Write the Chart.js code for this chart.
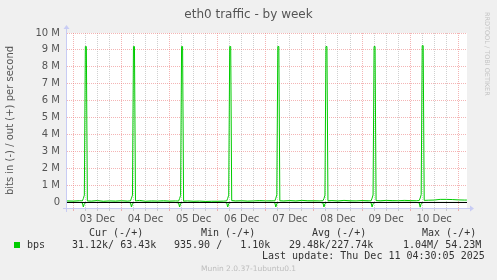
<!DOCTYPE html>
<html>
<head>
<meta charset="utf-8">
<script src="https://cdn.jsdelivr.net/npm/chart.js@4/dist/chart.umd.min.js"></script>
<style>
  html, body { margin: 0; padding: 0; background: #f0f0f0; }
  #wrap { position: relative; width: 497px; height: 280px; overflow: hidden; }
  canvas { position: absolute; left: 0; top: 0; }
  .t { position: absolute; white-space: pre; font-family: 'DejaVu Sans', sans-serif; }
  .mono { font-family: 'DejaVu Sans Mono', monospace; font-size: 10px; line-height: 12px; color: #333; }
</style>
</head>
<body>
<div id="wrap">
  <canvas id="graph" width="497" height="280"></canvas>
  <div class="t" style="left:0;width:497px;top:6px;text-align:center;font-size:12px;line-height:16px;color:#555;">eth0 traffic - by week</div>
  <div class="t" style="left:482px;top:12px;writing-mode:vertical-rl;font-size:6.5px;line-height:10px;color:#c4c4c4;">RRDTOOL / TOBI OETIKER</div>

  <div class="t mono" style="left:89px;top:227px;">Cur (-/+)</div>
  <div class="t mono" style="left:201px;top:227px;">Min (-/+)</div>
  <div class="t mono" style="left:312px;top:227px;">Avg (-/+)</div>
  <div class="t mono" style="left:422px;top:227px;">Max (-/+)</div>

  <div style="position:absolute;left:14px;top:242px;width:6px;height:6px;background:#00cc00;"></div>
  <div class="t mono" style="left:27px;top:239px;">bps</div>
  <div class="t mono" style="left:72px;top:239px;">31.12k/ 63.43k</div>
  <div class="t mono" style="left:174px;top:239px;">935.90 /   1.10k</div>
  <div class="t mono" style="left:289px;top:239px;">29.48k/227.74k</div>
  <div class="t mono" style="left:403px;top:239px;">1.04M/ 54.23M</div>

  <div class="t mono" style="left:262px;top:250px;">Last update: Thu Dec 11 04:30:05 2025</div>
  <div class="t" style="left:0;width:497px;top:264px;text-align:center;font-size:7.5px;line-height:10px;color:#bdbdbd;">Munin 2.0.37-1ubuntu0.1</div>
</div>

<script>
// hours counted from 03 Dec 00:00, one row every few hours (denser around the daily spike)
const timeHours = [
  -3.1,
  0, 3, 4.5, 5, 5.5, 6, 6.5, 7, 9, 12, 15, 18, 21,
  24, 27, 28.5, 29, 29.5, 30, 30.5, 31, 33, 36, 39, 42, 45,
  48, 51, 52.5, 53, 53.5, 54, 54.5, 55, 57, 60, 63, 66, 69,
  72, 75, 76.5, 77, 77.5, 78, 78.5, 79, 81, 84, 87, 90, 93,
  96, 99, 100.5, 101, 101.5, 102, 102.5, 103, 105, 108, 111, 114, 117,
  120, 123, 124.5, 125, 125.5, 126, 126.5, 127, 129, 132, 135, 138, 141,
  144, 147, 148.5, 149, 149.5, 150, 150.5, 151, 153, 156, 159, 162, 165,
  168, 171, 172.5, 173, 173.5, 174, 174.5, 175, 177, 180, 183, 186, 189,
  192, 195, 196.3
];

// bits out per second (+)
const outBps = [
  60000,
  50000, 70000, 60000, 200000, 400000, 9200000, 9200000, 60000, 50000, 80000, 40000, 60000, 50000,
  70000, 50000, 60000, 220000, 400000, 9200000, 9200000, 60000, 90000, 40000, 60000, 50000, 70000,
  50000, 60000, 50000, 200000, 380000, 9200000, 9200000, 50000, 60000, 40000, 50000, 30000, 40000,
  40000, 50000, 60000, 210000, 400000, 9200000, 9200000, 80000, 60000, 70000, 50000, 60000, 80000,
  60000, 70000, 60000, 220000, 420000, 9200000, 9200000, 70000, 60000, 80000, 60000, 90000, 70000,
  70000, 60000, 70000, 200000, 400000, 9200000, 9200000, 70000, 80000, 60000, 90000, 70000, 60000,
  80000, 70000, 60000, 220000, 410000, 9200000, 9200000, 80000, 70000, 90000, 80000, 70000, 90000,
  80000, 70000, 80000, 230000, 430000, 9250000, 9250000, 90000, 100000, 110000, 150000, 150000, 140000,
  120000, 110000, 110000
];

// bits in per second (-), drawn below zero
const inBps = [
  -20000,
  -20000, -30000, -50000, -300000, -100000, -50000, -40000, -30000, -20000, -30000, -20000, -30000, -20000,
  -30000, -20000, -50000, -300000, -110000, -50000, -40000, -30000, -20000, -30000, -20000, -30000, -20000,
  -20000, -30000, -60000, -300000, -100000, -50000, -40000, -20000, -30000, -20000, -30000, -20000, -30000,
  -20000, -30000, -50000, -300000, -100000, -50000, -40000, -30000, -20000, -30000, -20000, -30000, -20000,
  -30000, -20000, -50000, -300000, -110000, -50000, -40000, -30000, -20000, -30000, -20000, -30000, -20000,
  -20000, -30000, -60000, -300000, -100000, -50000, -40000, -20000, -30000, -20000, -30000, -20000, -30000,
  -30000, -20000, -50000, -300000, -110000, -50000, -40000, -30000, -20000, -30000, -20000, -30000, -20000,
  -20000, -30000, -50000, -310000, -100000, -50000, -40000, -30000, -30000, -30000, -30000, -30000, -30000,
  -30000, -30000, -30000
];

const dayLabels = ['03 Dec', '04 Dec', '05 Dec', '06 Dec', '07 Dec', '08 Dec', '09 Dec', '10 Dec'];
const yTickLabels = ['0', '1 M', '2 M', '3 M', '4 M', '5 M', '6 M', '7 M', '8 M', '9 M', '10 M'];

const redGrid = 'rgba(235,120,120,0.55)';
const grayGrid = 'rgba(170,170,170,0.55)';
const axisBlue = '#c8ccf4';

const toPts = (vals) => vals.map((v, i) => ({ x: timeHours[i], y: v }));

// white plot area, zero line and the rrdtool style arrows
const rrdFrame = {
    id: 'rrdFrame',
    beforeDraw(chart) {
        const { ctx, chartArea: a } = chart;
        ctx.save();
        ctx.fillStyle = '#ffffff';
        ctx.fillRect(a.left, a.top, a.right - a.left, a.bottom - a.top);
        ctx.restore();
    },
    afterDatasetsDraw(chart) {
        const { ctx, chartArea: a } = chart;
        const y0 = Math.round(chart.scales.y.getPixelForValue(0)) + 0.5;
        ctx.save();
        ctx.strokeStyle = '#000000';
        ctx.lineWidth = 1;
        ctx.beginPath();
        ctx.moveTo(a.left, y0);
        ctx.lineTo(a.right, y0);
        ctx.stroke();

        // axes
        ctx.strokeStyle = axisBlue;
        ctx.fillStyle = axisBlue;
        const xl = a.left - 0.5, yb = a.bottom + 0.5;
        ctx.beginPath();
        ctx.moveTo(xl, a.bottom + 4);
        ctx.lineTo(xl, a.top - 5);
        ctx.moveTo(a.left - 4, yb);
        ctx.lineTo(a.right + 4, yb);
        ctx.stroke();
        ctx.beginPath();
        ctx.moveTo(xl, a.top - 8);
        ctx.lineTo(xl - 3, a.top - 4);
        ctx.lineTo(xl + 3, a.top - 4);
        ctx.closePath();
        ctx.fill();
        ctx.beginPath();
        ctx.moveTo(a.right + 7, yb);
        ctx.lineTo(a.right + 3, yb - 3);
        ctx.lineTo(a.right + 3, yb + 3);
        ctx.closePath();
        ctx.fill();
        ctx.restore();
    }
};

new Chart(document.getElementById('graph'), {
    type: 'line',
    data: {
        datasets: [{
            label: 'out',
            data: toPts(outBps),
            borderColor: '#00cc00',
            borderWidth: 1,
            pointRadius: 0,
            tension: 0
        }, {
            label: 'in',
            data: toPts(inBps),
            borderColor: '#00cc00',
            borderWidth: 1,
            pointRadius: 0,
            tension: 0
        }]
    },
    options: {
        responsive: false,
        devicePixelRatio: 1,
        animation: false,
        layout: { padding: { left: 0, right: 30, top: 33, bottom: 0 } },
        plugins: {
            legend: { display: false },
            tooltip: { enabled: false }
        },
        scales: {
            x: {
                type: 'linear',
                min: -3.15,
                max: 196.35,
                afterFit: (s) => { s.height = 72; },
                afterBuildTicks: (s) => {
                    const t = [];
                    for (let h = 0; h <= 192; h += 6) t.push({ value: h });
                    s.ticks = t;
                },
                grid: {
                    color: (c) => (c.tick && c.tick.value % 24 === 0) ? redGrid : grayGrid,
                    lineWidth: 1,
                    drawTicks: true,
                    tickLength: 3
                },
                border: { display: false, dash: [1, 1] },
                ticks: {
                    autoSkip: false,
                    maxRotation: 0,
                    padding: 2,
                    color: '#555',
                    font: { family: 'DejaVu Sans', size: 10 },
                    callback: (v) => ((v - 12) % 24 === 0 ? dayLabels[(v - 12) / 24] : '')
                }
            },
            y: {
                min: -360000,
                max: 10000000,
                afterFit: (s) => { s.width = 67; },
                afterBuildTicks: (s) => {
                    const t = [];
                    for (let k = 0; k <= 20; k++) t.push({ value: k * 500000 });
                    s.ticks = t;
                },
                grid: {
                    color: (c) => {
                        if (!c.tick || c.tick.value === 0) return 'rgba(0,0,0,0)';
                        return c.tick.value % 1000000 === 0 ? redGrid : grayGrid;
                    },
                    lineWidth: 1,
                    drawTicks: false
                },
                border: { display: false, dash: [1, 1] },
                ticks: {
                    padding: 7,
                    color: '#555',
                    font: { family: 'DejaVu Sans', size: 10 },
                    callback: (v) => (v % 1000000 === 0 ? yTickLabels[v / 1000000] : '')
                },
                title: {
                    display: true,
                    text: 'bits in (-) / out (+) per second',
                    color: '#555',
                    font: { family: 'DejaVu Sans', size: 10 },
                    padding: { top: 4, bottom: 0 }
                }
            }
        }
    },
    plugins: [rrdFrame]
});
</script>
</body>
</html>
